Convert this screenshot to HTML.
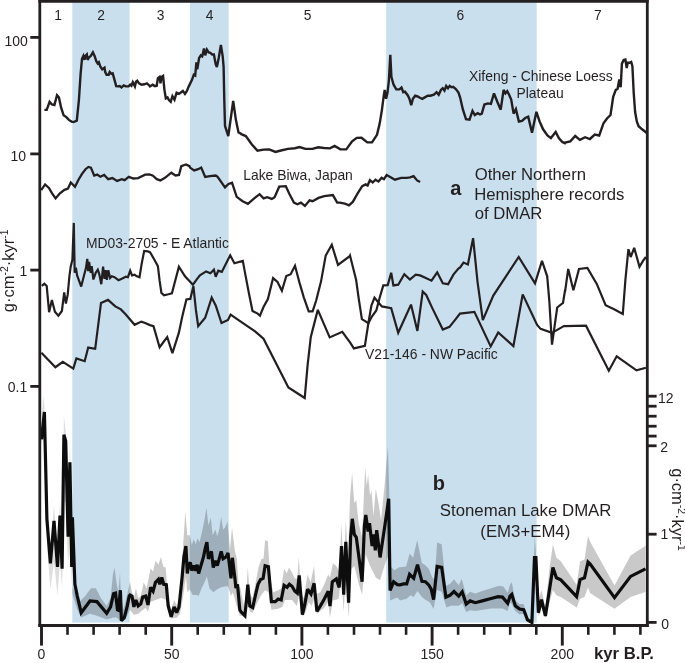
<!DOCTYPE html><html><head><meta charset="utf-8"><title>DMAR records</title>
<style>html,body{margin:0;padding:0;background:#fff}svg{display:block}text{font-family:"Liberation Sans",Arial,Helvetica,sans-serif;fill:#231f20}</style></head><body>
<svg width="685" height="663" viewBox="0 0 685 663">
<rect width="685" height="663" fill="#fff"/>
<rect x="72.3" y="0" width="57.3" height="622.6" fill="#c9dfed"/>
<rect x="189.9" y="0" width="38.8" height="622.6" fill="#c9dfed"/>
<rect x="386.2" y="0" width="150.5" height="622.6" fill="#c9dfed"/>
<path d="M41.5 434.0 L43.0 395.0 L44.4 405.6 L46.9 501.4 L50.4 551.0 L54.0 504.9 L57.5 551.0 L60.0 501.4 L62.1 551.0 L63.9 416.3 L65.7 430.5 L68.1 512.0 L69.9 441.1 L71.7 543.9 L72.4 501.4 L72.4 551.0 L71.7 586.5 L69.9 529.8 L68.1 565.2 L65.7 501.4 L63.9 501.4 L62.1 589.3 L60.0 561.7 L57.5 595.4 L54.0 561.7 L50.4 589.3 L46.9 543.9 L44.4 430.5 L41.5 444.6 Z" fill="#000" fill-opacity="0.13" stroke="none"/>
<path d="M72.4 501.4 L72.4 586.3 L79.2 602.0 L85.1 596.1 L91.0 588.2 L95.9 588.2 L100.8 598.0 L106.7 605.9 L110.6 598.0 L112.9 574.5 L114.5 567.6 L116.5 582.4 L118.4 592.2 L120.0 572.5 L120.8 594.1 L123.3 609.8 L127.3 594.1 L130.0 581.4 L132.0 592.2 L133.9 598.0 L135.9 588.2 L138.2 598.0 L140.8 596.1 L143.7 582.4 L146.7 588.2 L150.6 568.6 L153.1 571.6 L155.5 560.8 L158.4 564.7 L161.0 556.9 L163.3 566.7 L165.7 567.6 L168.2 598.0 L171.2 609.8 L174.1 600.0 L177.1 605.9 L180.0 594.1 L182.9 549.0 L185.3 511.8 L187.3 535.3 L189.8 535.3 L191.8 545.1 L193.7 539.2 L195.7 544.1 L197.6 538.2 L199.6 542.2 L202.5 529.4 L204.5 519.6 L206.5 507.8 L208.4 525.5 L210.8 517.6 L212.7 535.3 L215.3 529.4 L217.3 536.3 L219.2 529.4 L221.2 516.7 L223.1 529.4 L225.1 527.5 L227.5 521.6 L230.0 549.0 L232.0 527.5 L234.9 551.0 L236.9 558.8 L238.8 588.2 L240.0 586.3 L243.9 605.9 L246.3 592.2 L247.8 567.6 L249.8 594.1 L252.7 598.0 L255.7 582.4 L258.6 566.7 L261.6 558.8 L263.5 558.8 L265.1 540.2 L267.8 541.2 L270.4 578.4 L273.3 592.2 L278.2 590.2 L281.2 588.2 L284.1 568.6 L286.7 573.5 L289.0 567.6 L292.0 572.5 L294.9 578.4 L297.3 578.4 L298.8 556.9 L301.2 594.1 L303.7 598.0 L307.6 574.5 L310.6 582.4 L314.1 565.7 L316.1 594.1 L320.4 592.2 L324.3 584.3 L328.2 574.5 L330.0 577.5 L332.9 563.2 L336.3 566.0 L339.2 571.7 L341.5 523.1 L343.7 574.6 L345.8 520.2 L348.0 560.3 L350.0 497.3 L352.1 472.9 L354.3 503.0 L356.3 500.1 L358.6 523.1 L362.1 537.4 L363.8 497.3 L365.2 467.2 L366.7 485.8 L368.1 474.4 L370.1 495.8 L371.5 490.1 L373.5 515.9 L375.8 488.7 L378.7 504.4 L381.0 520.2 L384.4 487.3 L387.9 446.3 L389.3 491.6 L390.1 566.0 L394.4 570.3 L398.7 567.4 L400.0 567.3 L406.1 566.4 L409.6 553.6 L413.1 557.7 L417.2 540.1 L421.9 562.9 L425.4 565.2 L428.9 569.1 L432.4 577.8 L434.7 579.6 L437.1 542.4 L441.7 544.2 L445.9 585.7 L449.9 583.9 L454.0 579.2 L458.7 585.2 L461.7 578.7 L466.2 595.3 L470.1 591.8 L475.3 593.6 L482.3 590.9 L491.1 588.3 L499.0 585.7 L503.4 586.6 L507.7 592.7 L510.0 584.8 L511.8 582.2 L515.3 600.6 L519.6 604.1 L523.7 604.1 L527.5 617.2 L531.9 619.9 L534.7 536.6 L535.9 551.5 L538.4 600.6 L541.5 590.1 L545.4 607.6 L549.4 569.1 L552.9 544.5 L556.4 557.7 L560.8 561.2 L576.6 584.8 L580.1 561.2 L584.5 559.4 L588.0 535.8 L590.0 541.6 L614.5 585.5 L630.6 555.6 L645.5 545.7 L645.5 592.1 L630.6 597.1 L614.5 608.7 L590.0 592.9 L588.0 587.4 L584.5 597.1 L580.1 598.8 L576.6 607.6 L560.8 597.1 L556.4 595.3 L552.9 590.1 L545.4 618.1 L541.5 607.6 L538.4 616.4 L535.9 572.6 L534.5 570.8 L531.9 623.7 L527.5 621.6 L523.7 613.7 L519.6 614.6 L515.3 611.1 L511.8 604.1 L510.0 602.3 L507.7 611.1 L502.5 608.5 L491.1 608.5 L475.3 611.1 L470.1 610.2 L466.2 612.0 L462.2 603.2 L458.7 605.8 L450.8 605.8 L446.4 607.6 L441.7 591.8 L437.1 590.1 L433.6 609.0 L429.8 602.3 L425.4 599.7 L421.9 597.1 L417.5 590.9 L413.7 597.1 L410.5 595.3 L406.7 598.8 L400.0 600.6 L397.3 597.5 L390.1 600.4 L388.7 554.6 L384.4 566.0 L380.1 580.3 L375.8 577.5 L370.1 566.0 L365.8 554.6 L362.1 594.7 L358.6 583.2 L354.3 566.0 L351.5 568.9 L348.6 617.6 L345.8 574.6 L343.7 611.8 L341.5 577.5 L338.6 598.9 L332.9 600.4 L330.0 617.6 L328.2 602.0 L324.3 607.8 L316.9 613.7 L314.5 598.0 L311.6 605.9 L308.6 602.0 L305.7 611.8 L302.4 616.7 L299.2 594.1 L296.9 605.9 L292.0 600.0 L285.1 600.0 L282.2 606.9 L278.2 608.8 L271.4 609.8 L268.4 592.2 L265.1 590.2 L260.6 596.1 L256.7 603.9 L252.7 612.7 L249.8 611.8 L247.8 602.0 L244.9 617.6 L242.0 615.7 L239.8 615.7 L235.9 602.9 L232.9 592.2 L231.0 596.1 L228.0 586.3 L226.1 586.3 L221.2 587.3 L217.3 589.2 L213.3 592.2 L209.4 588.2 L206.9 576.5 L204.5 582.4 L201.6 588.2 L198.6 596.1 L196.7 595.1 L192.7 595.1 L189.8 589.2 L187.3 592.2 L185.9 576.5 L182.9 598.0 L180.0 613.7 L177.1 617.6 L171.2 618.6 L168.2 611.8 L166.3 600.0 L161.4 598.0 L155.5 600.0 L150.6 602.0 L148.0 611.8 L145.7 607.8 L141.8 610.8 L138.2 613.7 L133.9 614.7 L130.0 609.8 L126.3 617.6 L121.4 622.0 L116.5 617.6 L113.5 617.6 L106.7 619.6 L96.9 615.7 L90.0 613.7 L81.2 617.6 L77.3 609.8 L72.4 594.1 L72.4 551.0 Z" fill="#000" fill-opacity="0.21" stroke="none"/>
<path d="M44.4 109.9 L46.7 109.9 L49.6 101.8 L51.9 104.5 L54.4 105.0 L57.0 95.2 L58.9 97.4 L61.0 107.1 L63.6 115.3 L66.3 117.1 L68.9 119.9 L71.5 121.6 L73.6 122.1 L76.8 120.7 L78.9 100.1 L80.6 73.8 L82.0 58.9 L83.4 55.9 L84.5 59.8 L85.5 55.9 L86.8 54.5 L87.6 59.8 L89.1 57.2 L90.8 55.9 L92.9 52.4 L94.7 56.3 L96.4 61.5 L97.8 63.6 L98.9 62.4 L100.4 66.8 L102.2 69.4 L104.5 67.7 L105.2 72.0 L106.6 74.7 L108.7 74.7 L109.7 72.0 L111.5 73.8 L112.7 73.4 L114.5 79.9 L116.2 86.1 L118.0 86.4 L119.7 86.1 L121.5 87.5 L123.7 85.4 L125.8 86.4 L128.5 86.4 L130.2 84.7 L131.4 85.7 L132.8 82.2 L134.9 86.4 L136.0 81.7 L137.2 80.8 L139.0 83.4 L141.6 84.8 L144.2 84.3 L146.9 83.4 L149.5 85.7 L150.0 86.4 L152.6 84.7 L154.9 86.1 L156.7 85.7 L157.9 78.2 L159.6 76.9 L160.5 83.4 L161.6 76.9 L163.1 75.9 L164.4 89.6 L165.8 98.3 L167.5 97.4 L168.9 100.1 L170.7 101.8 L172.4 96.2 L174.5 99.7 L176.6 92.7 L178.9 93.9 L181.2 92.2 L182.9 91.0 L185.0 93.9 L186.8 91.3 L188.9 86.1 L192.0 79.9 L193.8 74.7 L195.2 75.5 L196.4 62.4 L197.3 69.4 L199.1 58.0 L200.8 55.4 L202.2 56.3 L204.0 48.4 L205.2 55.4 L206.9 49.6 L208.7 52.4 L210.4 52.8 L212.2 54.5 L213.9 54.5 L215.7 64.2 L216.9 67.1 L218.7 58.0 L220.9 44.9 L222.7 56.3 L223.6 66.8 L224.3 100.1 L225.0 126.0 L228.3 136.0 L233.2 100.9 L235.8 119.3 L238.5 132.5 L241.1 133.7 L240.0 133.7 L245.8 136.1 L251.7 144.2 L257.5 150.8 L263.4 149.6 L269.2 149.4 L275.5 151.9 L280.9 150.5 L287.9 148.9 L294.9 148.2 L299.6 147.0 L305.4 148.9 L312.4 148.9 L318.2 147.3 L324.1 148.0 L329.9 148.4 L334.6 145.9 L340.4 149.4 L346.3 149.4 L352.1 141.4 L356.8 137.9 L361.5 137.7 L367.3 142.4 L372.0 142.4 L377.3 134.4 L377.0 134.6 L379.6 124.1 L381.9 110.1 L383.7 96.1 L384.7 89.9 L386.1 98.7 L387.5 92.6 L388.9 80.3 L390.3 54.9 L391.4 76.8 L393.6 84.7 L396.3 89.4 L399.4 89.4 L401.5 87.6 L403.3 92.2 L405.0 91.7 L407.7 95.2 L409.4 98.7 L411.2 105.2 L412.9 98.7 L415.2 95.7 L417.6 96.4 L419.9 97.8 L422.2 98.9 L425.2 97.1 L427.8 95.7 L430.4 95.7 L433.9 94.7 L436.6 92.2 L438.7 94.7 L440.9 89.9 L442.7 88.2 L444.5 90.5 L446.2 85.9 L448.0 88.2 L449.7 85.9 L451.5 87.3 L453.2 86.9 L455.8 89.1 L458.5 92.6 L460.2 97.8 L462.8 109.2 L466.0 119.2 L469.5 119.7 L472.5 110.9 L474.8 115.0 L477.7 113.2 L480.0 114.5 L481.8 113.6 L484.4 104.5 L487.9 103.4 L490.9 103.9 L494.0 93.4 L497.5 102.2 L500.7 109.7 L503.6 89.9 L505.4 93.4 L507.2 91.2 L508.9 94.3 L511.2 99.6 L513.6 113.6 L515.9 109.2 L518.9 121.5 L522.0 120.9 L525.2 118.0 L528.2 116.7 L532.0 132.8 L536.4 111.8 L539.6 121.5 L543.1 129.3 L547.4 135.5 L550.9 138.1 L555.7 132.0 L558.8 138.1 L562.3 142.0 L565.8 143.7 L565.0 142.5 L570.3 141.3 L575.2 136.0 L579.9 139.9 L585.1 137.2 L589.9 139.0 L594.8 134.6 L599.2 135.5 L603.5 123.2 L607.0 118.5 L610.5 115.0 L613.2 96.9 L615.8 89.9 L617.6 88.7 L619.3 79.4 L620.7 87.3 L621.9 63.6 L623.7 60.1 L625.4 59.6 L626.7 68.0 L627.7 62.8 L629.5 62.8 L631.2 61.9 L632.4 66.3 L633.7 92.6 L635.1 111.8 L636.8 121.5 L638.6 126.2 L642.1 129.3 L646.5 132.8" fill="none" stroke="#231f20" stroke-width="2.4" stroke-linejoin="miter" stroke-miterlimit="3" stroke-linecap="butt"/>
<path d="M41.2 190.2 L45.1 184.4 L48.9 187.9 L52.1 193.3 L55.6 198.4 L59.9 193.3 L64.5 189.8 L68.0 188.6 L70.8 182.5 L75.0 186.7 L78.5 179.7 L82.0 173.9 L85.5 169.2 L88.4 166.9 L90.9 167.6 L94.2 175.5 L97.2 174.6 L100.3 176.7 L104.2 175.0 L108.2 179.2 L112.4 178.1 L117.1 180.9 L121.8 179.2 L124.6 180.2 L128.8 176.9 L133.4 178.5 L138.1 178.1 L145.1 174.6 L149.3 174.3 L152.6 175.5 L156.8 179.2 L160.3 180.4 L165.0 177.8 L171.3 172.7 L175.5 175.5 L179.0 175.0 L181.3 166.2 L186.0 164.5 L189.5 166.2 L190.0 167.6 L194.2 170.4 L198.2 169.2 L201.2 167.6 L205.2 176.9 L209.9 176.2 L215.7 175.5 L217.6 176.9 L225.0 187.4 L228.5 183.9 L232.0 182.7 L236.7 196.8 L242.6 201.2 L247.9 203.8 L254.2 198.4 L259.6 194.2 L263.6 198.4 L267.1 197.2 L271.8 198.9 L274.6 197.2 L279.2 186.7 L285.8 186.2 L289.3 193.7 L293.9 202.6 L297.4 204.2 L300.9 202.6 L304.9 205.9 L309.6 200.3 L312.6 201.2 L318.5 197.9 L324.3 196.1 L332.9 195.1 L337.2 202.6 L340.0 202.6 L344.7 203.5 L348.9 205.4 L352.8 201.9 L357.5 193.7 L362.2 186.2 L365.7 184.4 L367.6 185.5 L369.9 180.2 L372.7 182.5 L375.5 179.7 L378.5 181.6 L381.6 177.8 L383.9 179.2 L386.7 175.0 L390.2 176.9 L394.9 179.7 L401.2 177.8 L406.6 177.8 L410.1 177.4 L413.6 176.2 L417.1 180.4 L420.1 182.0" fill="none" stroke="#231f20" stroke-width="2.3" stroke-linejoin="miter" stroke-miterlimit="3" stroke-linecap="butt"/>
<path d="M41.8 285.9 L44.4 283.7 L46.7 285.9 L49.1 312.2 L51.9 300.0 L54.9 311.7 L58.4 315.7 L61.9 311.0 L64.2 292.4 L65.9 303.5 L67.7 294.7 L69.4 276.3 L70.7 266.7 L72.4 259.7 L73.8 222.9 L74.7 272.8 L75.9 267.6 L77.1 275.4 L79.4 281.6 L81.2 286.5 L83.8 276.3 L85.9 268.4 L87.3 258.8 L88.2 271.1 L89.1 261.9 L90.8 272.8 L91.7 266.2 L93.4 279.5 L95.7 272.8 L97.8 269.7 L99.2 273.7 L101.3 284.2 L103.1 266.7 L104.5 278.9 L105.7 270.2 L106.9 279.8 L108.3 270.2 L110.1 278.1 L111.8 276.3 L114.5 277.2 L118.5 280.2 L122.3 278.4 L125.8 276.7 L127.9 277.2 L130.2 270.7 L132.0 275.4 L134.6 274.6 L136.4 276.0 L139.5 277.2 L141.6 264.1 L144.2 250.9 L147.7 251.4 L150.0 252.1 L154.4 259.7 L157.9 266.2 L159.6 280.7 L161.4 293.0 L164.0 295.2 L168.4 294.2 L171.9 293.3 L178.9 266.7 L185.0 276.3 L192.9 284.7 L196.4 279.8 L199.9 275.4 L206.1 271.4 L210.4 273.2 L213.9 269.7 L215.7 276.7 L218.3 270.7 L221.8 271.9 L225.3 264.9 L230.2 255.3 L234.4 263.2 L242.8 260.9 L245.5 275.4 L249.0 293.8 L252.5 311.0 L257.7 313.6 L260.0 315.7 L263.5 307.0 L267.9 299.1 L273.1 278.1 L277.5 281.9 L281.9 290.7 L286.3 276.0 L290.7 274.2 L295.0 265.8 L299.4 282.4 L303.8 297.3 L308.7 311.4 L312.6 311.4 L316.1 300.8 L321.0 281.6 L325.7 255.6 L331.8 244.8 L338.0 264.9 L349.7 256.2 L350.0 255.6 L356.1 279.8 L358.8 299.1 L361.9 319.2 L368.4 323.3 L371.9 316.6 L376.3 310.5 L379.8 297.3 L383.3 285.4 L387.7 285.1 L391.2 272.8 L393.4 285.4 L398.2 284.7 L404.3 274.2 L409.9 279.5 L415.7 274.6 L420.1 275.4 L425.3 277.7 L431.5 280.7 L437.2 272.3 L442.8 283.3 L448.1 284.2 L453.4 274.6 L458.6 268.4 L460.0 267.6 L463.5 262.6 L467.9 264.4 L473.1 238.1 L477.5 281.6 L482.8 320.1 L493.3 295.6 L518.7 257.0 L535.0 283.3 L542.0 260.9 L547.2 276.3 L549.3 300.8 L552.0 344.6 L557.2 307.5 L563.0 302.9 L565.1 290.0 L565.0 292.1 L568.2 269.0 L573.4 290.3 L579.0 269.0 L587.4 267.9 L596.9 284.2 L605.6 305.2 L614.1 309.2 L622.8 314.0 L625.4 279.8 L628.4 249.2 L630.7 257.0 L634.2 247.9 L639.5 266.7 L643.0 260.9 L645.9 257.0" fill="none" stroke="#231f20" stroke-width="2.2" stroke-linejoin="miter" stroke-miterlimit="3" stroke-linecap="butt"/>
<path d="M41.4 352.8 L55.4 367.2 L62.8 361.9 L73.3 368.6 L76.4 358.4 L84.7 361.2 L88.2 347.6 L95.2 348.8 L101.0 302.9 L108.0 299.9 L115.3 306.4 L120.9 309.4 L125.8 314.6 L134.6 324.8 L141.3 321.6 L145.1 323.0 L150.0 325.1 L153.5 326.2 L159.6 347.2 L167.2 337.0 L172.4 353.2 L178.9 332.7 L182.4 316.0 L186.4 299.4 L190.3 298.9 L193.4 286.2 L195.9 309.9 L198.2 326.2 L205.2 317.8 L211.7 297.6 L215.7 305.5 L221.5 323.0 L228.0 319.9 L230.6 314.6 L245.5 324.8 L255.1 331.4 L260.0 335.6 L263.5 338.8 L288.4 387.5 L304.7 398.0 L307.6 365.1 L310.8 337.0 L317.8 309.9 L329.7 337.4 L342.3 331.8 L350.0 342.3 L353.9 348.4 L364.9 345.8 L368.4 323.0 L371.4 305.5 L374.5 297.6 L378.0 302.0 L381.9 306.4 L391.2 308.1 L398.2 332.7 L411.0 304.6 L417.4 330.9 L422.7 291.5 L426.2 295.0 L432.3 308.1 L442.8 329.5 L449.5 326.9 L455.1 319.9 L460.0 313.6 L474.4 311.9 L490.7 346.4 L498.2 332.4 L513.4 346.1 L522.7 294.4 L537.1 325.0 L540.6 328.9 L552.0 332.9 L564.2 325.9 L565.0 326.2 L586.0 325.7 L608.8 370.7 L616.7 356.3 L636.5 370.3 L645.9 367.7" fill="none" stroke="#231f20" stroke-width="2.2" stroke-linejoin="miter" stroke-miterlimit="3" stroke-linecap="butt"/>
<path d="M41.5 439.3 L44.4 412.0 L46.9 519.1 L50.4 563.4 L54.0 520.9 L57.5 567.0 L60.0 515.6 L62.1 568.8 L63.9 434.7 L65.7 441.1 L68.1 536.8 L69.9 462.4 L71.7 567.0 L72.4 517.3 L74.9 584.3 L77.3 596.1 L81.2 612.7 L90.0 601.0 L96.9 601.6 L106.7 613.3 L110.6 606.9 L113.5 593.7 L115.5 593.1 L117.5 609.8 L118.4 610.2 L120.4 590.2 L121.4 620.6 L124.3 617.6 L127.3 605.9 L129.2 596.1 L130.0 595.1 L132.0 596.1 L133.9 606.9 L135.9 600.0 L138.2 605.9 L140.8 603.9 L142.7 597.1 L145.7 596.1 L148.0 604.9 L150.6 587.3 L153.1 591.2 L155.5 582.4 L158.4 579.4 L159.8 584.3 L161.8 577.5 L163.7 584.3 L166.3 584.7 L168.2 605.9 L171.2 616.7 L174.1 606.9 L176.7 612.7 L179.0 606.9 L182.0 578.4 L183.9 556.9 L185.9 546.1 L187.3 573.5 L188.8 564.7 L190.4 562.4 L191.8 570.6 L193.7 565.7 L195.7 570.6 L197.1 564.7 L198.6 573.5 L200.6 566.7 L203.5 556.9 L205.5 547.1 L206.9 542.2 L208.4 558.8 L211.4 551.4 L213.3 567.6 L215.3 560.8 L217.3 565.7 L219.2 558.8 L221.2 551.4 L223.1 558.8 L226.1 556.9 L228.0 552.9 L231.0 578.4 L232.4 557.8 L234.9 578.4 L235.9 588.2 L237.5 584.3 L239.8 609.8 L241.0 611.8 L244.9 615.7 L246.3 602.0 L247.8 584.7 L249.8 605.9 L252.7 607.5 L255.7 594.1 L258.0 584.3 L260.6 579.4 L263.1 578.4 L265.1 565.7 L268.4 566.7 L271.4 601.6 L275.3 601.6 L278.2 599.0 L281.2 600.0 L284.1 585.3 L287.1 587.3 L289.4 584.3 L292.0 586.3 L294.9 591.2 L297.3 593.1 L299.2 575.5 L302.4 614.7 L304.7 604.9 L307.6 589.2 L311.0 594.1 L314.1 583.3 L316.9 611.4 L320.4 605.9 L324.3 599.0 L328.2 591.2 L330.0 606.1 L332.3 581.8 L336.3 578.9 L339.2 587.5 L341.5 546.0 L343.7 594.7 L345.8 541.7 L348.6 602.7 L350.6 537.4 L352.3 518.8 L354.3 534.5 L356.3 537.4 L358.6 554.6 L362.1 581.8 L364.4 525.9 L365.8 515.0 L368.1 531.6 L369.5 523.1 L372.1 546.0 L373.5 534.5 L375.3 550.3 L376.7 530.2 L380.1 557.4 L384.4 528.8 L388.7 498.7 L390.1 590.4 L393.6 581.8 L397.3 584.6 L400.0 584.8 L403.5 583.9 L406.7 583.9 L409.6 574.3 L413.7 578.3 L417.5 564.7 L421.9 581.3 L425.4 581.7 L428.9 585.2 L431.2 589.2 L433.6 599.7 L437.1 566.4 L441.7 567.3 L445.9 597.1 L449.9 595.3 L454.0 591.5 L458.7 596.2 L462.2 591.8 L466.2 604.1 L470.1 600.9 L475.3 602.7 L482.3 600.9 L491.1 598.5 L498.1 596.7 L502.5 597.1 L507.7 603.2 L510.0 596.2 L511.8 594.5 L515.3 605.8 L519.6 609.0 L523.7 609.7 L527.5 619.9 L531.9 622.5 L534.5 557.7 L535.9 557.7 L538.4 612.8 L541.5 599.7 L545.4 616.0 L552.9 567.6 L556.4 577.8 L560.8 579.9 L576.6 596.7 L580.1 579.6 L584.5 577.8 L588.0 562.0 L590.0 563.9 L614.5 597.6 L630.6 576.4 L645.5 568.9" fill="none" stroke="#0d0d0d" stroke-width="3.2" stroke-linejoin="miter" stroke-miterlimit="2.5"/>
<g stroke="#231f20" stroke-width="2.8" fill="none" stroke-linecap="butt">
<path d="M39.8 0 V626.9"/>
<path d="M647.3 0 V626.9"/>
<path d="M38.4 1.4 H648.6999999999999"/>
<path d="M38.4 625.5 H648.6999999999999"/>
<path d="M30.3 37.4 H39.8"/>
<path d="M30.3 153.9 H39.8"/>
<path d="M30.3 270.1 H39.8"/>
<path d="M30.3 386.4 H39.8"/>
<path d="M647.3 396.2 H656.6"/>
<path d="M647.3 406.2 H656.6"/>
<path d="M647.3 416.2 H656.6"/>
<path d="M647.3 426.2 H656.6"/>
<path d="M647.3 436.1 H656.6"/>
<path d="M647.3 445.8 H656.6"/>
<path d="M647.3 534.2 H656.6"/>
<path d="M647.3 622.4 H656.6"/>
<path d="M41.5 625.5 V645.6" stroke-width="2.9"/>
<path d="M67.5 625.5 V634.8" stroke-width="2.6"/>
<path d="M93.6 625.5 V634.8" stroke-width="2.6"/>
<path d="M119.6 625.5 V634.8" stroke-width="2.6"/>
<path d="M145.7 625.5 V634.8" stroke-width="2.6"/>
<path d="M171.7 625.5 V645.6" stroke-width="2.9"/>
<path d="M197.7 625.5 V634.8" stroke-width="2.6"/>
<path d="M223.8 625.5 V634.8" stroke-width="2.6"/>
<path d="M249.8 625.5 V634.8" stroke-width="2.6"/>
<path d="M275.9 625.5 V634.8" stroke-width="2.6"/>
<path d="M301.9 625.5 V645.6" stroke-width="2.9"/>
<path d="M327.9 625.5 V634.8" stroke-width="2.6"/>
<path d="M354.0 625.5 V634.8" stroke-width="2.6"/>
<path d="M380.0 625.5 V634.8" stroke-width="2.6"/>
<path d="M406.1 625.5 V634.8" stroke-width="2.6"/>
<path d="M432.1 625.5 V645.6" stroke-width="2.9"/>
<path d="M458.1 625.5 V634.8" stroke-width="2.6"/>
<path d="M484.2 625.5 V634.8" stroke-width="2.6"/>
<path d="M510.2 625.5 V634.8" stroke-width="2.6"/>
<path d="M536.3 625.5 V634.8" stroke-width="2.6"/>
<path d="M562.3 625.5 V645.6" stroke-width="2.9"/>
<path d="M588.3 625.5 V634.8" stroke-width="2.6"/>
<path d="M614.4 625.5 V634.8" stroke-width="2.6"/>
<path d="M640.4 625.5 V634.8" stroke-width="2.6"/>
</g>
<text x="58.2" y="19.6" font-size="13.8" text-anchor="middle" font-weight="normal" >1</text>
<text x="101.0" y="19.6" font-size="13.8" text-anchor="middle" font-weight="normal" >2</text>
<text x="160.5" y="19.6" font-size="13.8" text-anchor="middle" font-weight="normal" >3</text>
<text x="209.5" y="19.6" font-size="13.8" text-anchor="middle" font-weight="normal" >4</text>
<text x="307.6" y="19.6" font-size="13.8" text-anchor="middle" font-weight="normal" >5</text>
<text x="460.3" y="19.6" font-size="13.8" text-anchor="middle" font-weight="normal" >6</text>
<text x="597.9" y="19.6" font-size="13.8" text-anchor="middle" font-weight="normal" >7</text>
<text x="27.8" y="45.6" font-size="14" text-anchor="end" font-weight="normal" >100</text>
<text x="26" y="160.9" font-size="14" text-anchor="end" font-weight="normal" >10</text>
<text x="27.3" y="275.8" font-size="14" text-anchor="end" font-weight="normal" >1</text>
<text x="27.3" y="392.3" font-size="14" text-anchor="end" font-weight="normal" >0.1</text>
<text x="41.5" y="659.4" font-size="14" text-anchor="middle" font-weight="normal" >0</text>
<text x="171.70000000000002" y="659.4" font-size="14" text-anchor="middle" font-weight="normal" >50</text>
<text x="301.90000000000003" y="659.4" font-size="14" text-anchor="middle" font-weight="normal" >100</text>
<text x="432.1" y="659.4" font-size="14" text-anchor="middle" font-weight="normal" >150</text>
<text x="562.3000000000001" y="659.4" font-size="14" text-anchor="middle" font-weight="normal" >200</text>
<text x="594" y="658.8" font-size="16.7" text-anchor="start" font-weight="bold" >kyr B.P.</text>
<text x="658" y="402.9" font-size="14" text-anchor="start" font-weight="normal" >12</text>
<text x="660.2" y="451.7" font-size="14" text-anchor="start" font-weight="normal" >2</text>
<text x="660.4" y="538.5" font-size="14" text-anchor="start" font-weight="normal" >1</text>
<text x="661.3" y="629.1" font-size="14" text-anchor="start" font-weight="normal" >0</text>
<text x="612.6" y="80.8" font-size="13.9" text-anchor="end" font-weight="normal" >Xifeng - Chinese Loess</text>
<text x="516.5" y="97.6" font-size="13.9" text-anchor="start" font-weight="normal" >Plateau</text>
<text x="243.2" y="179.8" font-size="13.9" text-anchor="start" font-weight="normal" >Lake Biwa, Japan</text>
<text x="86" y="247.8" font-size="13.9" text-anchor="start" font-weight="normal" >MD03-2705 - E Atlantic</text>
<text x="365" y="359.4" font-size="13.9" text-anchor="start" font-weight="normal" >V21-146 - NW Pacific</text>
<text x="450.2" y="195.2" font-size="20" text-anchor="start" font-weight="bold" >a</text>
<text x="474.7" y="179.7" font-size="16.7" text-anchor="start" font-weight="normal" >Other Northern</text>
<text x="474.2" y="199.5" font-size="16.7" text-anchor="start" font-weight="normal" >Hemisphere records</text>
<text x="474.7" y="219.3" font-size="16.7" text-anchor="start" font-weight="normal" >of DMAR</text>
<text x="432.8" y="489.6" font-size="20" text-anchor="start" font-weight="bold" >b</text>
<text x="439.8" y="516.3" font-size="16.8" text-anchor="start" font-weight="normal" >Stoneman Lake DMAR</text>
<text x="480.3" y="536.6" font-size="16.8" text-anchor="start" font-weight="normal" >(EM3+EM4)</text>
<text transform="translate(13.6,312.2) rotate(-90)" font-size="16.5">g·cm<tspan font-size="10.4" dy="-6">-2</tspan><tspan dy="6">·kyr</tspan><tspan font-size="10.4" dy="-6">-1</tspan></text>
<text transform="translate(672.2,468.2) rotate(90)" font-size="16.5">g·cm<tspan font-size="10.4" dy="-6">-2</tspan><tspan dy="6">·kyr</tspan><tspan font-size="10.4" dy="-6">-1</tspan></text>
</svg></body></html>
